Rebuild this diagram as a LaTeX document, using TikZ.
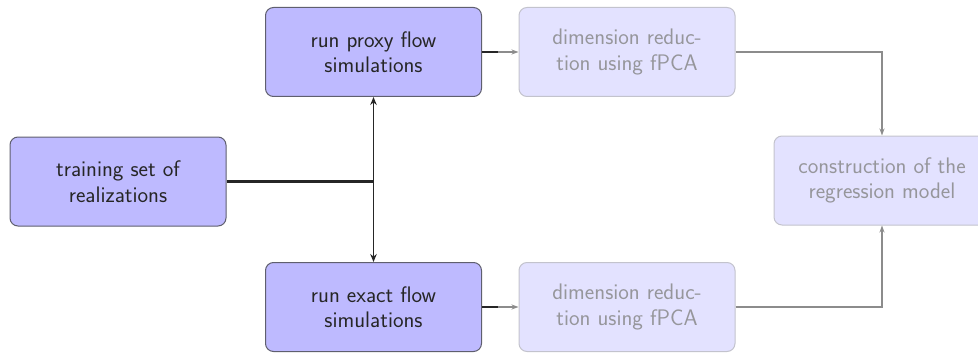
\documentclass[tikz,border=0pt]{standalone}
\usetikzlibrary{arrows.meta}
\definecolor{actfill}{RGB}{190,186,255}
\definecolor{actdraw}{RGB}{95,95,110}
\definecolor{fadfill}{RGB}{227,226,255}
\definecolor{faddraw}{RGB}{195,195,205}
\definecolor{fadtext}{RGB}{150,150,155}
\definecolor{fadline}{RGB}{140,140,140}
\tikzset{
  box/.style={rounded corners=8pt, minimum width=216pt, minimum height=89pt, align=center,
    font=\sffamily\fontsize{22.5}{25.5}\selectfont, line width=1pt, inner sep=0pt},
  actbox/.style={box, fill=actfill, draw=actdraw, text=black!85},
  fadbox/.style={box, fill=fadfill, draw=faddraw, text=fadtext},
  blk/.style={line width=2.4pt, black!85},
  blkarr/.style={line width=1.8pt, black!85, -{Stealth[length=8pt,width=6.5pt]}},
  gry/.style={line width=1.4pt, fadline, -{Stealth[length=7pt,width=5pt]}}
}
\begin{document}
\begin{tikzpicture}[x=1pt,y=-1pt]
\useasboundingbox (0,0) rectangle (978,353);
\clip (0,0) rectangle (978,353);
\node[actbox] (train) at (118,181.5) {training set of\\realizations};
\node[actbox] (proxy) at (373.5,52) {run proxy flow\\simulations};
\node[actbox] (exact) at (373.5,307) {run exact flow\\simulations};
\node[fadbox] (dim1) at (627,52) {dimension reduc-\\tion using fPCA};
\node[fadbox] (dim2) at (627,307) {dimension reduc-\\tion using fPCA};
\node[fadbox] (cons) at (882,180.5) {construction of the\\regression model};
\coordinate (j) at (373.5,181.5);
\draw[blk] (train.east) -- (j);
\draw[blkarr] (j) -- (proxy.south);
\draw[blkarr] (j) -- (exact.north);
\coordinate (m1) at ([xshift=16pt]proxy.east);
\coordinate (m2) at ([xshift=16pt]exact.east);
\draw[blk] (proxy.east) -- (m1);
\draw[blk] (exact.east) -- (m2);
\draw[gry] (m1) -- (dim1.west);
\draw[gry] (m2) -- (dim2.west);
\draw[gry] (dim1.east) -| (cons.north);
\draw[gry] (dim2.east) -| (cons.south);
\end{tikzpicture}
\end{document}
